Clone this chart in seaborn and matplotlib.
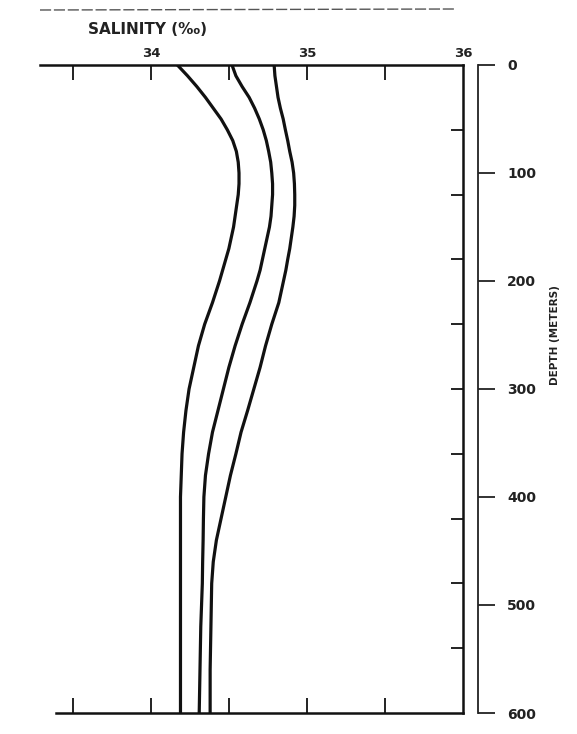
import matplotlib
matplotlib.use('Agg')
import matplotlib.pyplot as plt
import seaborn as sns
import pandas as pd

# depth levels (m) and salinity profiles (per mille)
depth = [0, 10, 20, 30, 40, 50, 60, 70, 80, 90, 100, 110, 120, 130, 140, 150,
         160, 170, 180, 190, 200, 220, 240, 260, 280, 300, 320, 340, 360, 380,
         400, 420, 440, 460, 480, 520, 560, 600]
sal_low = [34.17, 34.235, 34.295, 34.35, 34.40, 34.45, 34.49, 34.525, 34.548, 34.56,
           34.565, 34.565, 34.56, 34.55, 34.54, 34.53, 34.515, 34.50, 34.48, 34.46,
           34.44, 34.395, 34.345, 34.305, 34.275, 34.245, 34.225, 34.21, 34.20, 34.195,
           34.19, 34.19, 34.19, 34.19, 34.19, 34.19, 34.19, 34.19]
sal_mid = [34.52, 34.545, 34.585, 34.63, 34.665, 34.695, 34.72, 34.74, 34.755, 34.768,
           34.775, 34.78, 34.78, 34.775, 34.77, 34.76, 34.745, 34.73, 34.715, 34.70,
           34.68, 34.635, 34.585, 34.54, 34.50, 34.465, 34.43, 34.395, 34.37, 34.35,
           34.34, 34.337, 34.335, 34.332, 34.33, 34.32, 34.315, 34.31]
sal_high = [34.79, 34.795, 34.805, 34.815, 34.83, 34.848, 34.862, 34.877, 34.89, 34.905,
            34.915, 34.92, 34.922, 34.922, 34.918, 34.91, 34.90, 34.89, 34.877, 34.865,
            34.85, 34.82, 34.775, 34.735, 34.70, 34.66, 34.62, 34.578, 34.545, 34.51,
            34.48, 34.45, 34.42, 34.40, 34.39, 34.385, 34.38, 34.38]

sal_ticks = [33.5, 34, 34.5, 35, 35.5]
sal_labels = ['34', '35', '36']
depth_ticks = [0, 100, 200, 300, 400, 500, 600]
inner_ticks = [60, 120, 180, 240, 300, 360, 420, 480, 540]

df = pd.concat([
    pd.DataFrame({'depth': depth, 'salinity': s, 'profile': name})
    for name, s in [('low', sal_low), ('mid', sal_mid), ('high', sal_high)]
])

sns.set_style('white')
plt.rcParams['font.family'] = ['DejaVu Sans']

W, H = 577, 734
fig = plt.figure(figsize=(W / 100, H / 100), dpi=100)
x0, x1, y0, y1 = 40, 463, 65, 713
ax = fig.add_axes([x0 / W, 1 - y1 / H, (x1 - x0) / W, (y1 - y0) / H])

sns.lineplot(data=df, x='salinity', y='depth', hue='profile',
             palette=['#111111'] * 3, sort=False, estimator=None,
             legend=False, linewidth=2.3, solid_joinstyle='round', ax=ax)

ax.set_xlim(33.29, 36.0)
ax.set_ylim(600, 0)
ax.set_xlabel('')
ax.set_ylabel('')

for side in ['top', 'bottom', 'right']:
    ax.spines[side].set_visible(True)
    ax.spines[side].set_color('#111111')
    ax.spines[side].set_linewidth(1.8)
ax.spines['left'].set_visible(False)
ax.spines['bottom'].set_bounds(33.39, 36.0)

ax.set_xticks(sal_ticks)
ax.xaxis.set_ticks_position('both')
ax.tick_params(axis='x', direction='in', length=11, width=1.3, color='#111111',
               labelbottom=False, labeltop=False)
ax.set_yticks(inner_ticks)
ax.yaxis.set_ticks_position('right')
ax.tick_params(axis='y', direction='in', length=9, width=1.3, color='#111111',
               labelright=False, labelleft=False)

# salinity labels above the top axis
for i, lab in enumerate(sal_labels):
    ax.text(34 + i, -5, lab, ha='center', va='bottom', fontsize=9.5,
            fontweight='bold', color='#222222')
fig.text(88 / W, 1 - 30 / H, 'SALINITY (‰)', fontsize=11, fontweight='bold',
         color='#222222', va='center', ha='left')

# separate depth scale to the right of the box
ax2 = fig.add_axes([478 / W, 1 - y1 / H, 0.0001, (y1 - y0) / H])
ax2.set_ylim(600, 0)
ax2.set_xticks([])
for side in ['top', 'bottom', 'left']:
    ax2.spines[side].set_visible(False)
ax2.spines['right'].set_linewidth(1.3)
ax2.spines['right'].set_color('#222222')
ax2.yaxis.set_ticks_position('right')
ax2.set_yticks(depth_ticks)
ax2.set_yticklabels([str(d) for d in depth_ticks])
ax2.tick_params(axis='y', direction='out', length=12, width=1.3, pad=9,
                labelsize=10, colors='#222222')
for t in ax2.get_yticklabels():
    t.set_fontweight('bold')
fig.text(555 / W, 1 - 335 / H, 'DEPTH (METERS)', rotation=90, fontsize=7.5,
         fontweight='bold', color='#222222', ha='center', va='center')

# faint rule at the top of the scan
fig.add_artist(plt.Line2D([40 / W, 455 / W], [1 - 10 / H, 1 - 9 / H],
                          color='#555555', linewidth=1.0, linestyle=(0, (8, 2))))

fig.savefig('out.png', dpi=100)
plt.close(fig)
